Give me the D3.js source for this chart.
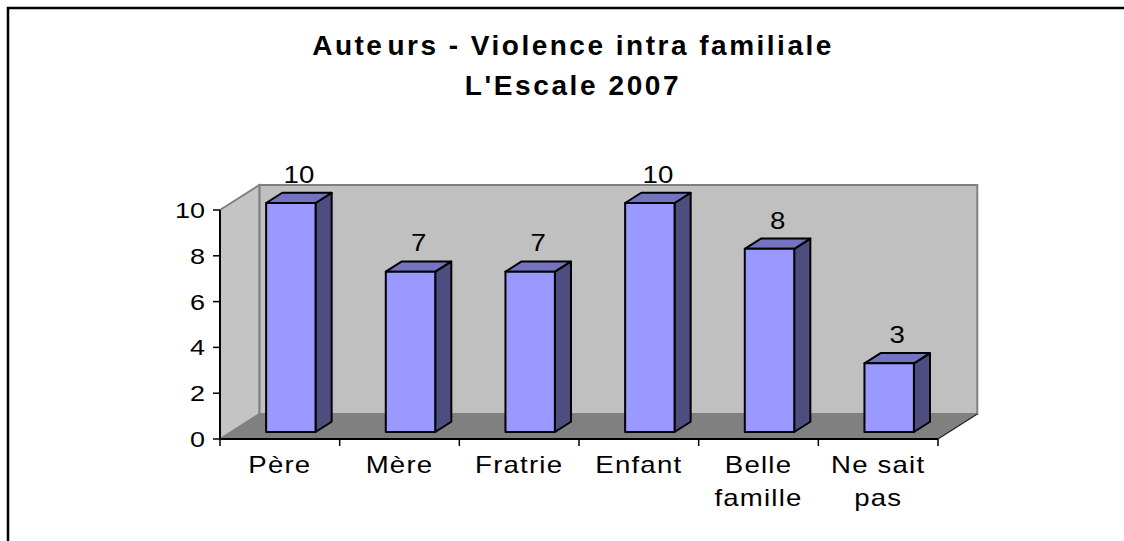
<!DOCTYPE html>
<html><head><meta charset="utf-8">
<script src="https://cdn.jsdelivr.net/npm/d3@7/dist/d3.min.js"></script>
<style>body{margin:0;background:#fff}svg{display:block}text{font-family:"Liberation Sans",Arial,sans-serif;fill:#000}</style>
</head><body><svg id="c" width="1124" height="541"></svg>
<script>
const categories = [["Père"],["Mère"],["Fratrie"],["Enfant"],["Belle","famille"],["Ne sait","pas"]];
const values = [10,7,7,10,8,3];
const yTicks = [0,2,4,6,8,10];
const titleLines = ["Auteurs - Violence intra familiale","L'Escale 2007"];

const svg = d3.select("#c");
const x = d3.scaleBand().domain(d3.range(categories.length)).range([220,938]).paddingInner(0).paddingOuter(0);
const y = d3.scaleLinear().domain([0,10]).range([439,210]);
const D = {x:39.3, y:-25};
const f0 = 0.28, f1 = 0.69;
const bw = x.bandwidth()*0.413;
const SX = 1.2; // horizontal stretch of the axis/label fonts
const pts = a => a.map(p=>p.join(",")).join(" ");

// outer border
svg.append("rect").attr("x",8).attr("y",8).attr("width",1140).attr("height",560)
  .attr("fill","none").attr("stroke","#000").attr("stroke-width",2.5);

// title
const tt = svg.append("g");
tt.append("text").attr("x",573).attr("y",55).attr("text-anchor","middle")
  .style("font-size","28px").style("font-weight","bold").style("letter-spacing","2.5px")
  .selectAll("tspan").data([titleLines[0].slice(0,4), titleLines[0].slice(4)]).join("tspan")
  .attr("dx",(d,i)=>i?3:0).text(d=>d);
tt.append("text").attr("x",573).attr("y",95).attr("text-anchor","middle")
  .style("font-size","28px").style("font-weight","bold").style("letter-spacing","2.6px")
  .text(titleLines[1]);

const x0 = x.range()[0], x1 = x.range()[1], yb = y(0), yt = y(10);
// back wall
svg.append("polygon").attr("points",pts([[x0+D.x,yt+D.y],[x1+D.x,yt+D.y],[x1+D.x,yb+D.y],[x0+D.x,yb+D.y]]))
  .attr("fill","#c0c0c0").attr("stroke","#808080").attr("stroke-width",2);
// left wall
svg.append("polygon").attr("points",pts([[x0,yb],[x0,yt],[x0+D.x,yt+D.y],[x0+D.x,yb+D.y]]))
  .attr("fill","#c4c4c4").attr("stroke","#808080").attr("stroke-width",2);
// floor
svg.append("polygon").attr("points",pts([[x0,yb],[x1,yb],[x1+D.x,yb+D.y],[x0+D.x,yb+D.y]]))
  .attr("fill","#808080").attr("stroke","none");
svg.append("line").attr("x1",x1).attr("y1",yb).attr("x2",x1+D.x).attr("y2",yb+D.y).attr("stroke","#222").attr("stroke-width",1.2);

// axes lines
svg.append("line").attr("x1",x0).attr("y1",yt).attr("x2",x0).attr("y2",yb).attr("stroke","#000").attr("stroke-width",2);
svg.append("line").attr("x1",x0).attr("y1",yb).attr("x2",x1).attr("y2",yb).attr("stroke","#000").attr("stroke-width",2);

// y ticks
const yg = svg.append("g");
yg.selectAll("line").data(yTicks).join("line").attr("x1",x0-7).attr("x2",x0).attr("y1",d=>y(d)).attr("y2",d=>y(d)).attr("stroke","#000").attr("stroke-width",1.5);
yg.selectAll("g.tl").data(yTicks).join("g").attr("class","tl")
  .attr("transform",d=>`translate(${x0-15},${y(d)+8}) scale(${SX},1)`)
  .append("text").attr("text-anchor","end").style("font-size","22.5px").text(d=>d);

// x ticks
const xt = d3.range(categories.length+1).map(i=>x0+i*x.bandwidth());
svg.selectAll("line.xt").data(xt).join("line").attr("class","xt").attr("x1",d=>d).attr("x2",d=>d).attr("y1",yb).attr("y2",yb+7).attr("stroke","#000").attr("stroke-width",1.5);

// x labels
categories.forEach((lines,i)=>{
  const cx = x(i)+x.bandwidth()/2;
  svg.append("g").attr("transform",`translate(${cx},473) scale(${SX},1)`)
    .append("text").attr("text-anchor","middle").style("font-size","23px").style("letter-spacing","1px")
    .selectAll("tspan").data(lines).join("tspan").attr("x",0).attr("dy",(d,j)=>j?33:0).text(d=>d);
});

// bars
const dd = {x:(f1-f0)*D.x, y:(f1-f0)*D.y};
const bars = svg.append("g");
values.forEach((v,i)=>{
  const cx = x(i)+x.bandwidth()/2;
  const L = cx-bw/2+f0*D.x, R = cx+bw/2+f0*D.x;
  const B = y(0)+f0*D.y, T = y(v)+f0*D.y;
  const g = bars.append("g").attr("stroke","#000").attr("stroke-width",2).attr("stroke-linejoin","round");
  g.append("polygon").attr("points",pts([[R,B],[R,T],[R+dd.x,T+dd.y],[R+dd.x,B+dd.y]])).attr("fill","#4d4d80");
  g.append("polygon").attr("points",pts([[L,T],[R,T],[R+dd.x,T+dd.y],[L+dd.x,T+dd.y]])).attr("fill","#7373bf");
  g.append("rect").attr("x",L).attr("y",T).attr("width",R-L).attr("height",B-T).attr("fill","#9999ff");
  svg.append("g").attr("transform",`translate(${cx+(f0+f1)/2*D.x},${y(v)+f1*D.y-10}) scale(${SX},1)`)
    .append("text").attr("text-anchor","middle").style("font-size","23px").text(v);
});
</script></body></html>
